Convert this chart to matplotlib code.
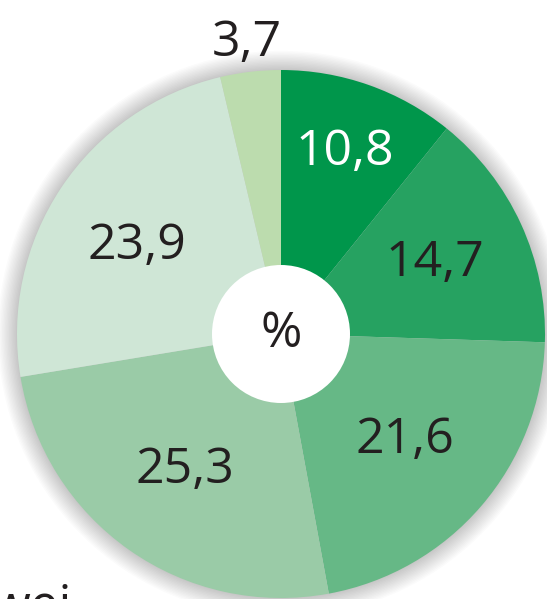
import numpy as np
import matplotlib.pyplot as plt
from matplotlib.patches import Circle

# Данные
values = [10.8, 14.7, 21.6, 25.3, 23.9, 3.7]
labels = ['10,8', '14,7', '21,6', '25,3', '23,9', '3,7']
colors = ['#00964b', '#26a261', '#66b886', '#9acba7', '#cfe6d6', '#bcdcae']
text_colors = ['white', '#231f20', '#231f20', '#231f20', '#231f20', '#231f20']
label_r = [0.73, 0.64, 0.62, 0.63, 0.64, 1.11]
label_shift = [0, 0, 0, 0, -2.5, 0]  # градусы

W, H = 547, 599
cx, cy, R = 281, H - 334, 264

fig = plt.figure(figsize=(W / 100, H / 100), dpi=100)
ax = fig.add_axes([0, 0, 1, 1])

# мягкая тень вокруг круга
for k in range(14):
    ax.add_patch(Circle((cx, cy), R + 1 + k * 1.4, color='black', alpha=0.016, lw=0, zorder=0))

ax.pie(values, colors=colors, startangle=90, counterclock=False,
       center=(cx, cy), radius=R, frame=True,
       wedgeprops=dict(linewidth=0))
ax.set_xlim(0, W)
ax.set_ylim(0, H)
ax.set_aspect('equal')
ax.axis('off')

# подписи
cum = np.cumsum([0] + values[:-1])
for v, c0, lab, tc, r, sh in zip(values, cum, labels, text_colors, label_r, label_shift):
    ang = np.deg2rad(90 - (c0 + v / 2) * 3.6 - sh)
    ax.text(cx + r * R * np.cos(ang), cy + r * R * np.sin(ang), lab,
            ha='center', va='center', fontsize=36, color=tc,
            family='Open Sans', zorder=5)

# белый центр
ax.add_patch(Circle((cx, cy), 69, color='white', lw=0, zorder=4))
ax.text(cx, cy, '%', ha='center', va='center', fontsize=36,
        color='#231f20', family='Open Sans', zorder=5)

ax.text(72, -22, 'wei', ha='right', va='baseline', fontsize=37,
        color='#231f20', family='Open Sans')

fig.savefig('out.png', dpi=100)
